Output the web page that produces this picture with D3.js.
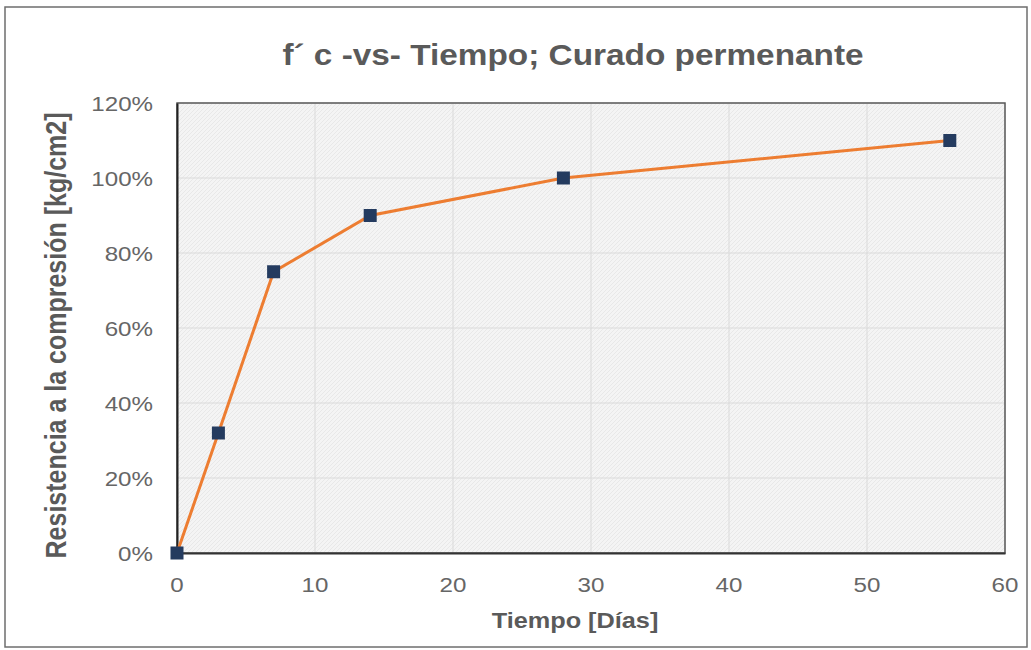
<!DOCTYPE html>
<html><head><meta charset="utf-8">
<script src="https://cdn.jsdelivr.net/npm/d3@7"></script>
<style>body{margin:0;background:#fff;}svg{display:block;font-family:Arial,"Liberation Sans",sans-serif;}</style>
</head><body>
<script>
const dias = [0, 3, 7, 14, 28, 56];
const resistencia = [0, 0.32, 0.75, 0.90, 1.00, 1.10];
const xTicks = [0, 10, 20, 30, 40, 50, 60];
const yTicks = [0, 0.2, 0.4, 0.6, 0.8, 1.0, 1.2];
const title = "f´ c -vs- Tiempo; Curado permenante";
const xTitle = "Tiempo [Días]";
const yTitle = "Resistencia a la compresión [kg/cm2]";

const W = 1031, H = 650;
const SX = 1.15; // horizontal stretch of the reference's text
const m = {left:177, right:26, top:103, bottom:97};
const svg = d3.select("body").append("svg").attr("width", W).attr("height", H);

const defs = svg.append("defs");
const pat = defs.append("pattern").attr("id","hatch").attr("patternUnits","userSpaceOnUse").attr("width",4).attr("height",4);
pat.append("rect").attr("width",4).attr("height",4).attr("fill","#f4f4f4");
pat.append("path").attr("d","M0,4 L4,0").attr("stroke","#e4e4e4").attr("stroke-width",0.8);

// outer frame
svg.append("rect").attr("x",5).attr("y",7).attr("width",W-9).attr("height",H-10)
  .attr("fill","#fff").attr("stroke","#6e6e6e").attr("stroke-width",1.5);

const x = d3.scaleLinear().domain([0,60]).range([m.left, W-m.right]);
const y = d3.scaleLinear().domain([0,1.2]).range([H-m.bottom, m.top]);

svg.append("rect").attr("x",x(0)).attr("y",y(1.2)).attr("width",x(60)-x(0)).attr("height",y(0)-y(1.2))
  .attr("fill","url(#hatch)");

// grid
svg.append("g").selectAll("line").data(xTicks).join("line")
  .attr("x1",d=>x(d)).attr("x2",d=>x(d)).attr("y1",y(0)).attr("y2",y(1.2))
  .attr("stroke","#dadada").attr("stroke-width",1);
svg.append("g").selectAll("line").data(yTicks).join("line")
  .attr("x1",x(0)).attr("x2",x(60)).attr("y1",d=>y(d)).attr("y2",d=>y(d))
  .attr("stroke","#dadada").attr("stroke-width",1);

// plot border
svg.append("rect").attr("x",x(0)).attr("y",y(1.2)).attr("width",x(60)-x(0)).attr("height",y(0)-y(1.2))
  .attr("fill","none").attr("stroke","#595959").attr("stroke-width",1.5);

// axes (lines from d3 axes, labels drawn stretched)
const xAxis = svg.append("g").attr("transform",`translate(0,${y(0)})`)
  .call(d3.axisBottom(x).tickValues(xTicks).tickSize(0).tickFormat(""));
xAxis.select(".domain").attr("stroke","#333").attr("stroke-width",2);
const yAxis = svg.append("g").attr("transform",`translate(${x(0)},0)`)
  .call(d3.axisLeft(y).tickValues(yTicks).tickSize(0).tickFormat(""));
yAxis.select(".domain").attr("stroke","#222").attr("stroke-width",2);

const pct = d3.format(".0%");
svg.append("g").selectAll("text").data(xTicks).join("text")
  .attr("transform",d=>`translate(${x(d)},${y(0)+39}) scale(${SX},1)`)
  .attr("text-anchor","middle").attr("font-size",21).attr("fill","#666").text(d=>d);
svg.append("g").selectAll("text").data(yTicks).join("text")
  .attr("transform",d=>`translate(${x(0)-24},${y(d)+7.5}) scale(${SX},1)`)
  .attr("text-anchor","end").attr("font-size",21).attr("fill","#666").text(d=>pct(d));

// line
const pts = dias.map((d,i)=>[d, resistencia[i]]);
svg.append("path").datum(pts)
  .attr("d", d3.line().x(d=>x(d[0])).y(d=>y(d[1])))
  .attr("fill","none").attr("stroke","#ed7d31").attr("stroke-width",3);

svg.append("g").selectAll("rect").data(pts).join("rect")
  .attr("x",d=>x(d[0])-6.5).attr("y",d=>y(d[1])-6.5).attr("width",13).attr("height",13)
  .attr("fill","#243b5f");

// titles
svg.append("text").attr("transform",`translate(573,65) scale(${SX},1)`).attr("text-anchor","middle")
  .attr("font-size",29).attr("font-weight","bold").attr("fill","#5a5a5a").text(title);
svg.append("text").attr("transform",`translate(575,628) scale(${SX},1)`).attr("text-anchor","middle")
  .attr("font-size",22).attr("font-weight","bold").attr("fill","#5a5a5a").text(xTitle);
svg.append("text").attr("transform",`translate(66,${(563+108)/2}) scale(${SX},1) rotate(-90)`).attr("text-anchor","middle")
  .attr("font-size",25).attr("font-weight","bold").attr("fill","#5a5a5a").text(yTitle);
</script>
</body></html>
